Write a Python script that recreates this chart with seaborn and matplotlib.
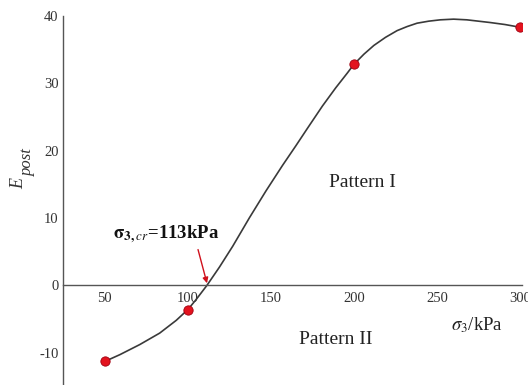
import matplotlib
matplotlib.use("Agg")
import matplotlib.pyplot as plt
import seaborn as sns
import pandas as pd

# measured points
sigma3 = [50, 100, 200, 300]
e_post = [-11.3, -3.6, 32.8, 38.3]

# fitted curve
curve_x = [50, 59, 71, 83, 93, 100, 105, 111.5, 119, 127, 137, 147, 157, 165, 172,
           181, 189, 196, 200, 206, 212, 219, 226, 232, 238, 245, 252, 260, 268,
           275, 282, 291, 300]
curve_y = [-11.3, -10.3, -8.8, -7.1, -5.2, -3.6, -2.1, 0.0, 2.7, 5.8, 10.0, 14.0,
           17.8, 20.7, 23.3, 26.6, 29.3, 31.5, 32.8, 34.3, 35.6, 36.8, 37.8, 38.4,
           38.9, 39.2, 39.4, 39.5, 39.4, 39.2, 39.0, 38.7, 38.3]

x_ticks = [50, 100, 150, 200, 250, 300]
y_ticks = [-10, 0, 10, 20, 30, 40]

sns.set_theme(style="white")
plt.rcParams["font.family"] = ["Liberation Serif", "DejaVu Serif"]
plt.rcParams["mathtext.fontset"] = "stix"
plt.rcParams["axes.unicode_minus"] = False

W, H = 528, 385
fig = plt.figure(figsize=(W / 100, H / 100), dpi=100)
ax = fig.add_axes([0.12, 0.0, 0.868, 0.959])

pts = pd.DataFrame({"x": sigma3, "y": e_post})
crv = pd.DataFrame({"x": curve_x, "y": curve_y})

sns.lineplot(data=crv, x="x", y="y", ax=ax, color="#3a3a3a", lw=1.2, sort=False,
             solid_joinstyle="round")
sns.scatterplot(data=pts, x="x", y="y", ax=ax, color="#e3131e", edgecolor="#a00010",
                s=45, linewidth=0.6, zorder=5)

ax.set_xlim(25, 301)
ax.set_ylim(-14.8, 40)
ax.set_xticks(x_ticks)
ax.set_yticks(y_ticks)
ax.spines["bottom"].set_position(("data", 0))
ax.spines["top"].set_visible(False)
ax.spines["right"].set_visible(False)
for s in ("bottom", "left"):
    ax.spines[s].set_color("#555555")
    ax.spines[s].set_linewidth(1.0)
ax.tick_params(axis="both", direction="in", length=5, width=0.9, color="#555555",
               labelsize=10.5, labelcolor="#333333")
ax.tick_params(axis="x", pad=5)
ax.set_xlabel("")
ax.set_ylabel("")

# y label: italic E with a large italic subscript "post"
fig.text(19 / W, 1 - 183 / H, "E", rotation=90, style="italic", fontsize=13,
         color="#333333", ha="center", va="center")
fig.text(27.5 / W, 1 - 162 / H, "post", rotation=90, style="italic", fontsize=12,
         color="#333333", ha="center", va="center")

ax.text(205, 15.3, "Pattern I", fontsize=14, color="#222222", ha="center", va="center")
ax.text(189, -8.1, "Pattern II", fontsize=14, color="#222222", ha="center", va="center")
ax.text(274, -5.85, r"$\sigma_3$/kPa", fontsize=13.5, color="#222222", ha="center",
        va="center")
ax.text(86.8, 7.5, r"$\mathbf{\sigma_{3,\mathit{cr}}}$" + "=113kPa", fontsize=13.5,
        fontweight="bold", color="#111111", ha="center", va="center")
ax.annotate("", xy=(111.5, 0.3), xytext=(106.1, 5.3),
            arrowprops=dict(arrowstyle="-|>", color="#d0101c", lw=1.0,
                            mutation_scale=8, shrinkA=0, shrinkB=0))

fig.savefig("out.png", dpi=100)
